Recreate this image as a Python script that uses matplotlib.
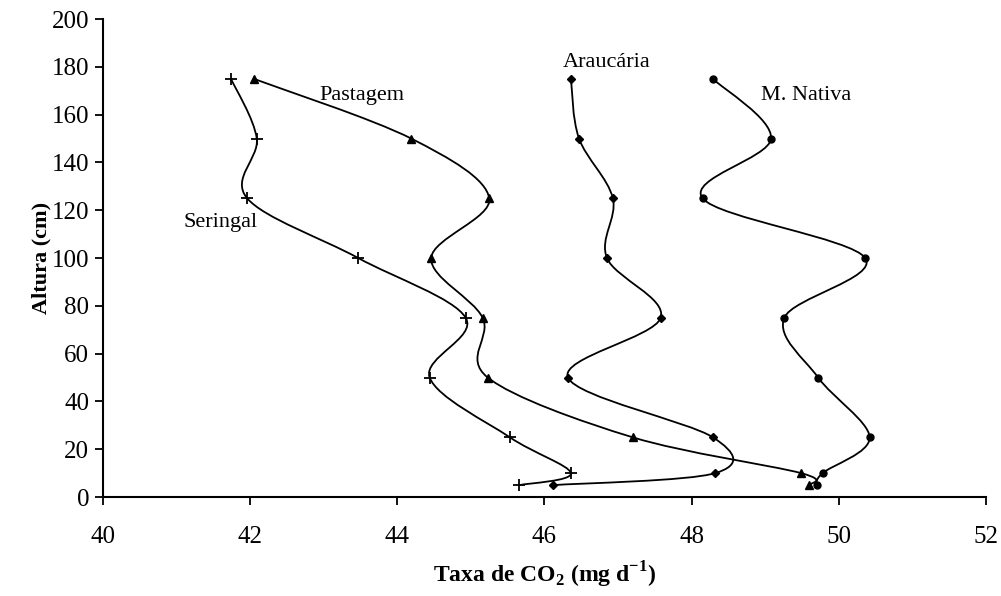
import matplotlib
matplotlib.use("Agg")
import matplotlib.pyplot as plt
from matplotlib.path import Path
from matplotlib.patches import PathPatch
import numpy as np

plt.rcParams['font.family'] = ['Liberation Serif', 'DejaVu Serif']
plt.rcParams['mathtext.fontset'] = 'custom'
plt.rcParams['mathtext.rm'] = 'Liberation Serif:bold'
plt.rcParams['mathtext.bf'] = 'Liberation Serif:bold'

altura = [175, 150, 125, 100, 75, 50, 25, 10, 5]
seringal = [41.74, 42.09, 41.96, 43.47, 44.93, 44.44, 45.53, 46.36, 45.66]
pastagem = [42.05, 44.19, 45.25, 44.46, 45.16, 45.23, 47.20, 49.49, 49.60]
araucaria = [46.36, 46.47, 46.93, 46.85, 47.58, 46.32, 48.29, 48.32, 46.12]
m_nativa = [48.29, 49.08, 48.15, 50.36, 49.26, 49.72, 50.42, 49.78, 49.70]

series = [
    ("Seringal", seringal, dict(marker='+', markersize=8, markeredgewidth=1.3)),
    ("Pastagem", pastagem, dict(marker='^', markersize=5.5)),
    ("Araucária", araucaria, dict(marker='D', markersize=4.2)),
    ("M. Nativa", m_nativa, dict(marker='o', markersize=5)),
]

labels = {
    "Pastagem": (43.52, 168),
    "Seringal": (41.6, 115),
    "Araucária": (46.85, 182),
    "M. Nativa": (49.55, 168),
}


def smooth_path(xs, ys):
    pts = np.column_stack([xs, ys]).astype(float)
    n = len(pts)
    verts = [pts[0]]
    codes = [Path.MOVETO]
    for i in range(n - 1):
        p0 = pts[i - 1] if i > 0 else pts[i]
        p1 = pts[i]
        p2 = pts[i + 1]
        p3 = pts[i + 2] if i + 2 < n else pts[i + 1]
        c1 = p1 + (p2 - p0) / 6.0
        c2 = p2 - (p3 - p1) / 6.0
        verts += [c1, c2, p2]
        codes += [Path.CURVE4] * 3
    return Path(verts, codes)


fig = plt.figure(figsize=(10.01, 5.96), dpi=100)
ax = fig.add_axes([0.1029, 0.166, 0.882, 0.802])

for name, xs, mk in series:
    patch = PathPatch(smooth_path(xs, altura), facecolor='none',
                      edgecolor='black', linewidth=1.3)
    ax.add_patch(patch)
    ax.plot(xs, altura, linestyle='none', color='black', **mk)
    lx, ly = labels[name]
    ax.text(lx, ly, name, fontsize=16, ha='center', va='center')

ax.set_xlim(40, 52)
ax.set_ylim(0, 200)
ax.set_xticks(np.arange(40, 53, 2))
ax.set_yticks(np.arange(0, 201, 20))
for s in ['top', 'right']:
    ax.spines[s].set_visible(False)
for s in ['left', 'bottom']:
    ax.spines[s].set_linewidth(1.5)
ax.tick_params(direction='out', length=6, width=1.3, pad=4)
ax.tick_params(axis='y', labelsize=18)
ax.tick_params(axis='x', labelsize=18, pad=15)

ax.set_ylabel('Altura (cm)', fontsize=16, fontweight='bold', labelpad=0)
ax.set_xlabel(r'Taxa de CO$_\mathbf{2}$ (mg d$^\mathbf{-1}$)', fontsize=17,
              fontweight='bold', labelpad=8)

fig.savefig('out.png', dpi=100)
